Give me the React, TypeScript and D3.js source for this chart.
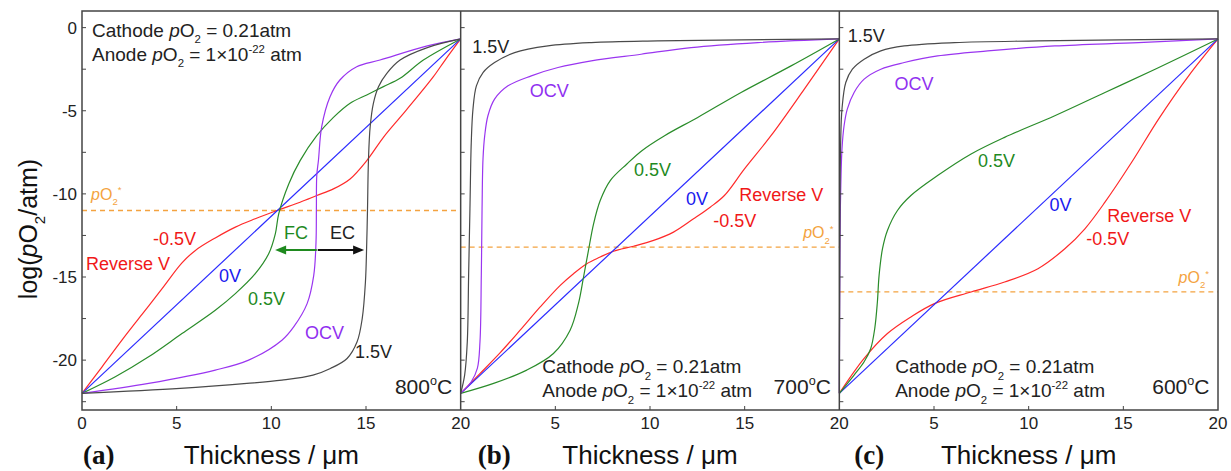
import { useRef, useEffect } from 'react';
import * as d3 from 'd3';

type Pt = [number, number];

// axis ticks
const thicknessTicks = [0, 5, 10, 15, 20];
const logTicks = [0, -5, -10, -15, -20];
const minorLogTicks = [0, -2.5, -5, -7.5, -10, -12.5, -15, -17.5, -20, -22.5];

const temperatures = ['800', '700', '600'];
const panelTags = ['(a)', '(b)', '(c)'];
const pO2Star = [-11.0, -13.2, -15.9];

// 0V is a straight line in every panel
const zeroV: Pt[] = [[0, -22], [20, -0.68]];

// (a) 800 C
const rev800: Pt[] = [[0, -22], [1.06, -20.4], [2.11, -18.8], [3.17, -17.25], [4.23, -15.7], [5.28, -14.15], [5.99, -13.4], [7.04, -12.65], [8.1, -12.0], [9.15, -11.5], [10.3, -11.0], [11.52, -10.5], [12.4, -10.1], [13.28, -9.7], [14.16, -9.1], [15.04, -8.0], [15.92, -6.6], [16.8, -5.4], [17.68, -4.2], [18.56, -2.95], [19.18, -1.95], [20, -0.68]];
const half800: Pt[] = [[0, -22], [1.76, -21.0], [3.52, -19.8], [5.28, -18.4], [7.04, -17.0], [8.1, -16.0], [9.15, -14.8], [9.86, -13.6], [10.21, -12.4], [10.39, -11.2], [10.92, -9.4], [11.52, -8.0], [12.4, -6.5], [13.28, -5.4], [14.16, -4.55], [15.04, -4.05], [15.92, -3.55], [16.8, -3.05], [18.03, -1.95], [20, -0.68]];
const ocv800: Pt[] = [[0, -22], [3.52, -21.4], [7.04, -20.6], [8.8, -20.0], [10.56, -18.8], [11.18, -18.0], [11.89, -16.6], [12.24, -14.9], [12.36, -12.9], [12.38, -10.9], [12.4, -8.9], [12.49, -7.96], [12.66, -5.96], [13.1, -4.16], [13.62, -3.15], [14.51, -2.35], [15.74, -1.95], [18.24, -1.1], [20, -0.68]];
const high800: Pt[] = [[0, -22], [5.19, -21.7], [8.71, -21.4], [10.56, -21.2], [12.2, -20.9], [13.12, -20.5], [14.0, -19.9], [14.53, -18.9], [14.8, -17.5], [14.97, -15.3], [15.04, -12.9], [15.08, -10.9], [15.13, -7.96], [15.22, -5.96], [15.39, -4.55], [15.66, -3.55], [16.1, -2.75], [16.8, -1.95], [18.24, -1.2], [20, -0.68]];

// (b) 700 C
const rev700: Pt[] = [[0, -22], [1.03, -20.8], [2.09, -19.55], [3.14, -18.2], [4.2, -16.8], [5.26, -15.5], [5.96, -14.8], [6.66, -14.2], [7.37, -13.8], [8.07, -13.45], [9.13, -13.15], [10.19, -12.8], [11.24, -12.3], [12.3, -11.5], [13.18, -10.8], [13.93, -10.1], [14.99, -8.5], [16.39, -6.5], [18.15, -3.7], [20, -0.68]];
const half700: Pt[] = [[0, -22], [1.74, -21.4], [3.49, -20.6], [4.9, -19.6], [5.78, -18.2], [6.22, -16.6], [6.49, -15.0], [6.75, -13.4], [7.02, -11.8], [7.37, -10.4], [7.9, -9.2], [8.78, -8.2], [9.57, -7.4], [10.77, -6.5], [12.52, -5.4], [14.81, -3.9], [17.45, -2.3], [20, -0.68]];
const ocv700: Pt[] = [[0, -22], [0.56, -21.3], [0.88, -20.5], [1.02, -18.9], [1.09, -14.9], [1.13, -10.9], [1.18, -7.9], [1.27, -6.5], [1.44, -5.3], [1.79, -4.3], [2.5, -3.5], [3.73, -2.9], [5.14, -2.4], [6.9, -2.0], [9.53, -1.6], [12.17, -1.2], [15.69, -0.9], [20, -0.68]];
const high700: Pt[] = [[0, -22], [0.21, -20.9], [0.35, -18.9], [0.42, -14.9], [0.49, -10.9], [0.56, -6.9], [0.65, -4.9], [0.83, -3.5], [1.18, -2.7], [1.79, -2.1], [2.85, -1.5], [4.61, -1.1], [6.9, -0.9], [10.4, -0.8], [20, -0.68]];

// (c) 600 C
const rev600: Pt[] = [[0, -22], [1.31, -19.9], [2.54, -18.4], [3.78, -17.4], [5.02, -16.6], [6.96, -15.9], [8.73, -15.3], [10.49, -14.5], [11.91, -13.3], [12.97, -12.1], [14.03, -10.5], [15.44, -8.1], [16.86, -5.5], [18.45, -2.9], [20, -0.68]];
const half600: Pt[] = [[0, -22], [0.78, -20.9], [1.31, -20.1], [1.66, -19.3], [1.87, -18.1], [2.01, -16.5], [2.1, -14.9], [2.28, -13.3], [2.54, -12.2], [3.07, -11.0], [3.78, -10.1], [5.19, -8.9], [6.96, -7.6], [8.73, -6.6], [11.38, -5.3], [14.03, -3.9], [16.68, -2.5], [20, -0.68]];
const ocv600: Pt[] = [[0, -22], [0.035, -12.9], [0.07, -9.9], [0.14, -7.3], [0.25, -5.9], [0.42, -4.9], [0.78, -3.9], [1.31, -3.1], [2.19, -2.5], [3.43, -2.1], [5.19, -1.7], [7.84, -1.4], [11.38, -1.1], [15.8, -0.9], [20, -0.68]];
const high600: Pt[] = [[0, -22], [0.035, -10.9], [0.07, -6.9], [0.14, -4.9], [0.34, -3.3], [0.69, -2.5], [1.31, -1.9], [2.19, -1.4], [3.43, -1.1], [6.08, -0.9], [10.5, -0.8], [20, -0.68]];

const RED = '#ff2a2a';
const BLUE = '#2b2bff';
const GREEN = '#2a8c2a';
const PURPLE = '#9a35f0';
const GREY = '#4a4a4a';
const ORANGE = '#f4a340';

const panelSeries = [
  [rev800, zeroV, half800, ocv800, high800],
  [rev700, zeroV, half700, ocv700, high700],
  [rev600, zeroV, half600, ocv600, high600],
];
const seriesColors = [RED, BLUE, GREEN, PURPLE, GREY];

// label placement, in data units of each panel
const curveLabels = [
  [
    { t: '-0.5V', x: 3.75, y: -13.1, c: '#f01818' },
    { t: 'Reverse V', x: 0.21, y: -14.6, c: '#f01818' },
    { t: '0V', x: 7.24, y: -15.3, c: '#1a1aee' },
    { t: '0.5V', x: 8.77, y: -16.7, c: '#1f8a1f' },
    { t: 'OCV', x: 11.78, y: -18.7, c: '#9030f0' },
    { t: '1.5V', x: 14.42, y: -19.9, c: '#222' },
    { t: 'FC', x: 10.67, y: -12.7, c: '#1f8a1f' },
    { t: 'EC', x: 13.1, y: -12.7, c: '#222' },
  ],
  [
    { t: '1.5V', x: 0.61, y: -1.5, c: '#222' },
    { t: 'OCV', x: 3.65, y: -4.2, c: '#9030f0' },
    { t: '0.5V', x: 9.15, y: -8.9, c: '#1f8a1f' },
    { t: '0V', x: 11.9, y: -10.67, c: '#1a1aee' },
    { t: 'Reverse V', x: 14.71, y: -10.4, c: '#f01818' },
    { t: '-0.5V', x: 13.34, y: -12.0, c: '#f01818' },
  ],
  [
    { t: '1.5V', x: 0.45, y: -0.85, c: '#222' },
    { t: 'OCV', x: 2.92, y: -3.75, c: '#9030f0' },
    { t: '0.5V', x: 7.32, y: -8.37, c: '#1f8a1f' },
    { t: '0V', x: 11.1, y: -11.0, c: '#1a1aee' },
    { t: 'Reverse V', x: 14.15, y: -11.67, c: '#f01818' },
    { t: '-0.5V', x: 13.04, y: -13.08, c: '#f01818' },
  ],
];
const starLabelPos = [{ x: 0.48, y: -10.37 }, { x: 18.09, y: -12.68 }, { x: 17.92, y: -15.38 }];
const conditionPos = [{ x: 0.53, y: -0.57 }, { x: 4.31, y: -20.8 }, { x: 2.95, y: -20.8 }];
const tempPos = { x: 19.55, y: -22.05 };
// FC / EC arrows of panel (a)
const arrowFC = { from: 12.4, to: 10.2, y: -13.38 };
const arrowEC = { from: 12.45, to: 14.9, y: -13.38 };

const SANS = 'Arial, "Liberation Sans", sans-serif';
const SERIF = '"Times New Roman", "Liberation Serif", serif';

type Part = { t: string; i?: boolean; sub?: boolean; sup?: boolean };

function rich(g: any, x: number, y: number, parts: Part[], size: number, color: string, anchor = 'start') {
  const text = g
    .append('text')
    .attr('x', x)
    .attr('y', y)
    .attr('font-size', size)
    .attr('fill', color)
    .attr('font-family', SANS)
    .attr('text-anchor', anchor);
  let shift = 0;
  parts.forEach((p) => {
    const target = p.sub ? size * 0.32 : p.sup ? -size * 0.42 : 0;
    const s = text.append('tspan').attr('dy', target - shift).text(p.t);
    if (p.sub || p.sup) s.attr('font-size', size * 0.6);
    if (p.i) s.attr('font-style', 'italic');
    shift = target;
  });
  return text;
}

const pO2 = (): Part[] => [{ t: 'p', i: true }, { t: 'O' }, { t: '2', sub: true }];

export default function App() {
  const svgRef = useRef<SVGSVGElement>(null);

  useEffect(() => {
    const svg = d3.select(svgRef.current);
    svg.selectAll('*').remove();

    const left = 82;
    const right = 1218;
    const top = 11;
    const bottom = 410;
    const pw = (right - left) / 3;

    svg.append('rect').attr('width', 1231).attr('height', 471).attr('fill', 'white');

    const y = d3.scaleLinear().domain([-23, 1]).range([bottom, top]);

    panelSeries.forEach((series, i) => {
      const x0 = left + i * pw;
      const x = d3.scaleLinear().domain([0, 20]).range([x0, x0 + pw]);
      const g = svg.append('g');

      // pO2* threshold
      g.append('line')
        .attr('x1', x(0))
        .attr('x2', x(20))
        .attr('y1', y(pO2Star[i]))
        .attr('y2', y(pO2Star[i]))
        .attr('stroke', ORANGE)
        .attr('stroke-width', 1.3)
        .attr('stroke-dasharray', '5,4');

      const line = d3
        .line<Pt>()
        .x((d) => x(d[0]))
        .y((d) => y(d[1]))
        .curve(d3.curveCatmullRom.alpha(0.5));

      series.forEach((data, k) => {
        g.append('path')
          .attr('d', line(data))
          .attr('fill', 'none')
          .attr('stroke', seriesColors[k])
          .attr('stroke-width', 1.2);
      });

      // inner ticks
      minorLogTicks.forEach((v) => {
        g.append('line')
          .attr('x1', x(0))
          .attr('x2', x(0) + 4)
          .attr('y1', y(v))
          .attr('y2', y(v))
          .attr('stroke', '#444')
          .attr('stroke-width', 1);
      });
      thicknessTicks.slice(1, -1).forEach((v) => {
        g.append('line')
          .attr('x1', x(v))
          .attr('x2', x(v))
          .attr('y1', bottom)
          .attr('y2', bottom - 4)
          .attr('stroke', '#444')
          .attr('stroke-width', 1);
      });

      // tick labels
      (i === 0 ? thicknessTicks : thicknessTicks.slice(1)).forEach((v) => {
        g.append('text')
          .attr('x', x(v))
          .attr('y', 429)
          .attr('text-anchor', 'middle')
          .attr('font-family', SANS)
          .attr('font-size', 17)
          .attr('fill', '#222')
          .text(v);
      });
      if (i === 0) {
        logTicks.forEach((v) => {
          g.append('text')
            .attr('x', 77)
            .attr('y', y(v) + 6)
            .attr('text-anchor', 'end')
            .attr('font-family', SANS)
            .attr('font-size', 17)
            .attr('fill', '#222')
            .text(v);
        });
      }

      // curve labels
      curveLabels[i].forEach((l) => {
        g.append('text')
          .attr('x', x(l.x))
          .attr('y', y(l.y))
          .attr('font-family', SANS)
          .attr('font-size', 18)
          .attr('fill', l.c)
          .text(l.t);
      });

      // pO2* label
      rich(g, x(starLabelPos[i].x), y(starLabelPos[i].y), [{ t: 'p', i: true }, { t: 'O' }, { t: '2', sub: true }, { t: '*', sup: true }], 16, ORANGE);

      // gas conditions
      const cp = conditionPos[i];
      rich(g, x(cp.x), y(cp.y), [{ t: 'Cathode ' }, ...pO2(), { t: ' = 0.21atm' }], 19, '#222');
      rich(g, x(cp.x), y(cp.y) + 24, [{ t: 'Anode ' }, ...pO2(), { t: ' = 1\u00d710' }, { t: '-22', sup: true }, { t: ' atm' }], 19, '#222');

      // temperature
      rich(g, x(tempPos.x), y(tempPos.y), [{ t: temperatures[i] }, { t: 'o', sup: true }, { t: 'C' }], 21, '#222', 'end');

      // x axis title and panel tag
      g.append('text')
        .attr('x', x(10))
        .attr('y', 464)
        .attr('text-anchor', 'middle')
        .attr('font-family', SANS)
        .attr('font-size', 26)
        .attr('fill', '#111')
        .text('Thickness / \u03bcm');
      g.append('text')
        .attr('x', x0 + [1, 17, 15][i])
        .attr('y', 464)
        .attr('font-family', SERIF)
        .attr('font-weight', 'bold')
        .attr('font-size', 27)
        .attr('fill', '#111')
        .text(panelTags[i]);

      if (i === 0) {
        const arrow = (a: { from: number; to: number; y: number }, color: string) => {
          const xs = x(a.from);
          const xe = x(a.to);
          const yy = y(a.y);
          const dir = Math.sign(xe - xs);
          g.append('line')
            .attr('x1', xs)
            .attr('x2', xe - dir * 8)
            .attr('y1', yy)
            .attr('y2', yy)
            .attr('stroke', color)
            .attr('stroke-width', 2);
          g.append('path')
            .attr('d', `M${xe},${yy}L${xe - dir * 11},${yy - 4.5}L${xe - dir * 11},${yy + 4.5}Z`)
            .attr('fill', color);
        };
        arrow(arrowFC, '#1f8a1f');
        arrow(arrowEC, '#111');
      }
    });

    // frame
    const frame = svg.append('g').attr('stroke', '#444').attr('stroke-width', 1.5).attr('fill', 'none');
    frame.append('rect').attr('x', left).attr('y', top).attr('width', right - left).attr('height', bottom - top);
    [1, 2].forEach((k) => {
      frame.append('line').attr('x1', left + k * pw).attr('x2', left + k * pw).attr('y1', top).attr('y2', bottom);
    });

    // y title
    rich(svg.append('g').attr('transform', 'translate(37,229) rotate(-90)'), 0, 0, [{ t: 'log(' }, ...pO2(), { t: '/atm)' }], 25, '#111', 'middle');
  }, []);

  return (
    <div style={{ position: 'absolute', left: 0, top: 0 }}>
      <svg ref={svgRef} width={1231} height={471} />
    </div>
  );
}
